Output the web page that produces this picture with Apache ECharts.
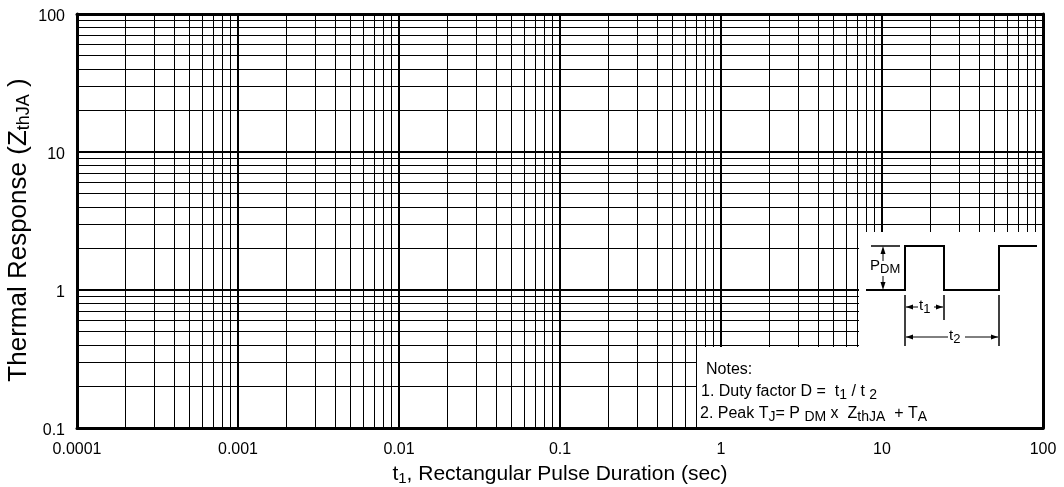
<!DOCTYPE html>
<html><head><meta charset="utf-8">
<script src="https://cdn.jsdelivr.net/npm/echarts@6/dist/echarts.min.js"></script>
<style>html,body{margin:0;padding:0;background:#fff}#c{width:1064px;height:487px}</style>
</head><body><div id="c"></div>
<script>
// Axis ranges and tick values (log-log chart, no data curves drawn in the reference)
const xMajorTicks = [0.0001, 0.001, 0.01, 0.1, 1, 10, 100];
const xTickLabels = ['0.0001', '0.001', '0.01', '0.1', '1', '10', '100'];
const yMajorTicks = [0.1, 1, 10, 100];
const yTickLabels = ['0.1', '1', '10', '100'];
const xMinorTicks = [
  0.0002, 0.0003, 0.0004, 0.0005, 0.0006, 0.0007, 0.0008, 0.0009,
  0.002, 0.003, 0.004, 0.005, 0.006, 0.007, 0.008, 0.009,
  0.02, 0.03, 0.04, 0.05, 0.06, 0.07, 0.08, 0.09,
  0.2, 0.3, 0.4, 0.5, 0.6, 0.7, 0.8, 0.9,
  2, 3, 4, 5, 6, 7, 8, 9,
  20, 30, 40, 50, 60, 70, 80, 90
];
const yMinorTicks = [
  0.2, 0.3, 0.4, 0.5, 0.6, 0.7, 0.8, 0.9,
  2, 3, 4, 5, 6, 7, 8, 9,
  20, 30, 40, 50, 60, 70, 80, 90
];

const FONT = 'Liberation Sans, Arial, sans-serif';
function labelFor(ticks, labels, wrap) {
  return function (v) {
    for (let i = 0; i < ticks.length; i++) {
      if (Math.abs(Math.log10(ticks[i]) - Math.log10(v)) < 1e-6) return wrap ? '{a|' + labels[i] + '}' : labels[i];
    }
    return '';
  };
}

const chart = echarts.init(document.getElementById('c'), null, {renderer: 'canvas'});

const frameAxis = (pos, type) => ({
  type: 'log', logBase: 10, position: pos,
  min: type === 'x' ? xMajorTicks[0] : yMajorTicks[0],
  max: type === 'x' ? xMajorTicks[xMajorTicks.length - 1] : yMajorTicks[yMajorTicks.length - 1],
  z: 20,
  axisLine: {show: true, lineStyle: {color: '#000', width: 3}},
  axisTick: {show: false}, axisLabel: {show: false}, splitLine: {show: false}
});

const minorLineData = [];
xMinorTicks.forEach(v => minorLineData.push({xAxis: v}));
yMinorTicks.forEach(v => minorLineData.push({yAxis: v}));

const lineW = 2, thin = 1.5;
const G = [];
// white panels (inset covering the grid)
G.push({type: 'rect', z: 10, shape: {x: 859, y: 232, width: 183, height: 195}, style: {fill: '#fff'}});
G.push({type: 'rect', z: 10, shape: {x: 697, y: 347, width: 345, height: 80}, style: {fill: '#fff'}});
// waveform
G.push({type: 'polyline', z: 11, shape: {points: [[866,290],[905,290],[905,246],[944,246],[944,290],[999,290],[999,246],[1037,246]]}, style: {stroke: '#000', lineWidth: lineW, fill: null}});
G.push({type: 'line', z: 11, shape: {x1: 871, y1: 246, x2: 900, y2: 246}, style: {stroke: '#000', lineWidth: thin}});
// PDM arrow
G.push({type: 'line', z: 11, shape: {x1: 883, y1: 250, x2: 883, y2: 261}, style: {stroke: '#000', lineWidth: 1}});
G.push({type: 'line', z: 11, shape: {x1: 883, y1: 276, x2: 883, y2: 286}, style: {stroke: '#000', lineWidth: 1}});
G.push({type: 'polygon', z: 11, shape: {points: [[883,246],[880.5,254],[885.5,254]]}, style: {fill: '#000'}});
G.push({type: 'polygon', z: 11, shape: {points: [[883,290],[880.5,282],[885.5,282]]}, style: {fill: '#000'}});
// markers
G.push({type: 'line', z: 11, shape: {x1: 905, y1: 295, x2: 905, y2: 346}, style: {stroke: '#000', lineWidth: thin}});
G.push({type: 'line', z: 11, shape: {x1: 944, y1: 295, x2: 944, y2: 320}, style: {stroke: '#000', lineWidth: thin}});
G.push({type: 'line', z: 11, shape: {x1: 999, y1: 295, x2: 999, y2: 346}, style: {stroke: '#000', lineWidth: thin}});
// t1 arrow
G.push({type: 'line', z: 11, shape: {x1: 906, y1: 307, x2: 918, y2: 307}, style: {stroke: '#000', lineWidth: 1}});
G.push({type: 'line', z: 11, shape: {x1: 934, y1: 307, x2: 943, y2: 307}, style: {stroke: '#000', lineWidth: 1}});
G.push({type: 'polygon', z: 11, shape: {points: [[906,307],[913,304.5],[913,309.5]]}, style: {fill: '#000'}});
G.push({type: 'polygon', z: 11, shape: {points: [[943,307],[936,304.5],[936,309.5]]}, style: {fill: '#000'}});
// t2 arrow
G.push({type: 'line', z: 11, shape: {x1: 906, y1: 337, x2: 948, y2: 337}, style: {stroke: '#000', lineWidth: 1}});
G.push({type: 'line', z: 11, shape: {x1: 965, y1: 337, x2: 998, y2: 337}, style: {stroke: '#000', lineWidth: 1}});
G.push({type: 'polygon', z: 11, shape: {points: [[906,337],[913,334.5],[913,339.5]]}, style: {fill: '#000'}});
G.push({type: 'polygon', z: 11, shape: {points: [[998,337],[991,334.5],[991,339.5]]}, style: {fill: '#000'}});

const richDia = {
  m: {fontSize: 15, fontFamily: FONT, color: '#000'},
  s: {fontSize: 13, fontFamily: FONT, color: '#000', padding: [7, 0, 0, 0]}
};
const richNotes = {
  m: {fontSize: 16, fontFamily: FONT, color: '#000'},
  s: {fontSize: 14, fontFamily: FONT, color: '#000', padding: [7, 0, 0, 0]}
};
G.push({type: 'text', z: 12, x: 870, y: 266, style: {text: '{m|P}{s|DM}', rich: richDia, verticalAlign: 'middle'}});
G.push({type: 'text', z: 12, x: 919, y: 306, style: {text: '{m|t}{s|1}', rich: richDia, verticalAlign: 'middle'}});
G.push({type: 'text', z: 12, x: 949, y: 336, style: {text: '{m|t}{s|2}', rich: richDia, verticalAlign: 'middle'}});
G.push({type: 'text', z: 12, x: 706, y: 370, style: {text: '{m|Notes:}', rich: richNotes, verticalAlign: 'middle'}});
G.push({type: 'text', z: 12, x: 701, y: 392, style: {text: '{m|1. Duty factor D =  t}{s|1}{m| / t }{s|2}', rich: richNotes, verticalAlign: 'middle'}});
G.push({type: 'text', z: 12, x: 700, y: 414, style: {text: '{m|2. Peak T}{s|J}{m|= P }{s|DM}{m| x  Z}{s|thJA}{m|  + T}{s|A}', rich: richNotes, verticalAlign: 'middle'}});

const option = {
  backgroundColor: '#fff',
  animation: false,
  grid: {left: 77, right: 21, top: 14, bottom: 59, containLabel: false, outerBoundsMode: 'none'},
  xAxis: [
    {
      type: 'log', logBase: 10, position: 'bottom',
      min: xMajorTicks[0], max: xMajorTicks[xMajorTicks.length - 1],
      splitNumber: 10,
      name: '{m|t}{s|1}{m|, Rectangular Pulse Duration (sec)}',
      nameLocation: 'middle', nameGap: 34, nameMoveOverlap: false,
      nameTextStyle: {rich: {
        m: {fontSize: 21, fontFamily: FONT, color: '#000'},
        s: {fontSize: 15, fontFamily: FONT, color: '#000', padding: [9, 0, 0, 0]}
      }},
      axisLine: {show: false}, axisTick: {show: false},
      axisLabel: {show: true, color: '#000', fontSize: 16, fontFamily: FONT, margin: 14,
        formatter: labelFor(xMajorTicks, xTickLabels, false), showMinLabel: true, showMaxLabel: true},
      splitLine: {show: true, lineStyle: {color: '#000', width: 2}}
    },
    frameAxis('top', 'x'),
    frameAxis('bottom', 'x')
  ],
  yAxis: [
    {
      type: 'log', logBase: 10, position: 'left',
      min: yMajorTicks[0], max: yMajorTicks[yMajorTicks.length - 1],
      splitNumber: 10,
      name: '{m|Thermal Response (Z}{s|thJA}{m| )}',
      nameLocation: 'middle', nameGap: 44, nameMoveOverlap: false,
      nameTextStyle: {padding: [0, 18, 0, 0], rich: {
        m: {fontSize: 26, fontFamily: FONT, color: '#000'},
        s: {fontSize: 18, fontFamily: FONT, color: '#000', padding: [10, 0, 0, 0]}
      }},
      axisLine: {show: false}, axisTick: {show: false},
      axisLabel: {show: true, color: '#000', fontSize: 16, fontFamily: FONT, margin: 12,
        rich: {a: {fontSize: 16, fontFamily: FONT, color: '#000', padding: [6, 0, 0, 0]}},
        formatter: labelFor(yMajorTicks, yTickLabels, true), showMinLabel: true, showMaxLabel: true},
      splitLine: {show: true, lineStyle: {color: '#000', width: 2}}
    },
    frameAxis('right', 'y'),
    frameAxis('left', 'y')
  ],
  series: [{
    type: 'line', xAxisIndex: 0, yAxisIndex: 0, data: [], silent: true,
    markLine: {
      silent: true, precision: 10, symbol: ['none', 'none'], label: {show: false},
      emphasis: {disabled: true},
      lineStyle: {color: '#000', width: 1, type: 'solid'},
      data: minorLineData
    }
  }],
  graphic: {elements: G}
};
chart.setOption(option);
</script>
</body></html>
